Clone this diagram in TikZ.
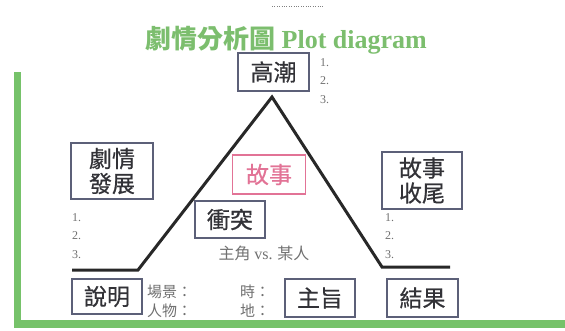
\documentclass[tikz,border=0pt]{standalone}
\usepackage{fontspec}
\setmainfont{Liberation Serif}
\newfontfamily\cjk{Noto Sans CJK TC}
\newfontfamily\cjkbox[FakeBold=0.6]{Noto Sans CJK TC}
\definecolor{framegreen}{RGB}{118,194,106}
\definecolor{titlegreen}{RGB}{124,190,110}
\definecolor{boxline}{RGB}{92,96,120}
\definecolor{boxtext}{RGB}{50,50,55}
\definecolor{storypink}{RGB}{226,115,150}
\definecolor{notegray}{RGB}{112,112,112}
\definecolor{plotline}{RGB}{40,40,40}

\begin{document}
\begin{tikzpicture}[x=1pt,y=-1pt,
    stage/.style={draw=boxline,line width=1.8pt,text=boxtext,inner sep=0pt,align=center,
      font=\cjkbox\fontsize{23}{25}\selectfont},
    notes/.style={text=notegray,inner sep=0pt,align=left,anchor=north west,
      font=\fontsize{12}{18.5}\selectfont},
    hint/.style={text=notegray,inner sep=0pt,anchor=west,font=\cjk\fontsize{15}{18}\selectfont}]
    \useasboundingbox (0,0) rectangle (565,330);
    \fill[framegreen] (14,72) rectangle (21,328);
    \fill[framegreen] (14,320) rectangle (565,328);
    \draw[gray,dotted] (272,6) -- (324,6);
    \node[text=titlegreen,inner sep=0pt,anchor=base,font=\fontsize{26}{30}\selectfont] (title) at (286,48)
      {{\cjk\bfseries 劇情分析圖} \textbf{Plot diagram}};
    \coordinate (startL) at (72,270);
    \coordinate (baseL) at (138,270);
    \coordinate (peak) at (272,97);
    \coordinate (baseR) at (382,267);
    \coordinate (endR) at (450,267);
    \draw[plotline,line width=3pt,line join=miter] (startL) -- (baseL) -- (peak) -- (baseR) -- (endR);
    \node[stage,minimum width=71pt,minimum height=38pt] (climax) at (273.5,72) {高潮};
    \node[stage,minimum width=82pt,minimum height=56pt] (rising) at (112,171) {劇情\\發展};
    \node[stage,draw=storypink,text=storypink,minimum width=73pt,minimum height=39pt] (story) at (269,174.5) {故事};
    \node[stage,minimum width=70pt,minimum height=37pt] (conflict) at (230,219.5) {衝突};
    \node[stage,minimum width=80pt,minimum height=57pt] (falling) at (422,180.5) {故事\\收尾};
    \node[stage,minimum width=70pt,minimum height=35pt] (expo) at (107,296.5) {說明};
    \node[stage,minimum width=70pt,minimum height=38pt] (theme) at (320,298) {主旨};
    \node[stage,minimum width=71pt,minimum height=38pt] (result) at (422.5,298) {結果};
    \node[notes] (climaxlist) at (320,58) {1.\\2.\\3.};
    \node[notes] (risinglist) at (72,213) {1.\\2.\\3.};
    \node[notes] (fallinglist) at (385,213) {1.\\2.\\3.};
    \node[hint,anchor=center,font=\cjk\fontsize{16}{18}\selectfont] (versus) at (264,253) {主角 {\rmfamily vs.} 某人};
    \node[hint] (scene) at (147,292) {場景：};
    \node[hint] (people) at (147,311) {人物：};
    \node[hint] (when) at (240,292) {時：};
    \node[hint] (where) at (240,311) {地：};
\end{tikzpicture}
\end{document}
